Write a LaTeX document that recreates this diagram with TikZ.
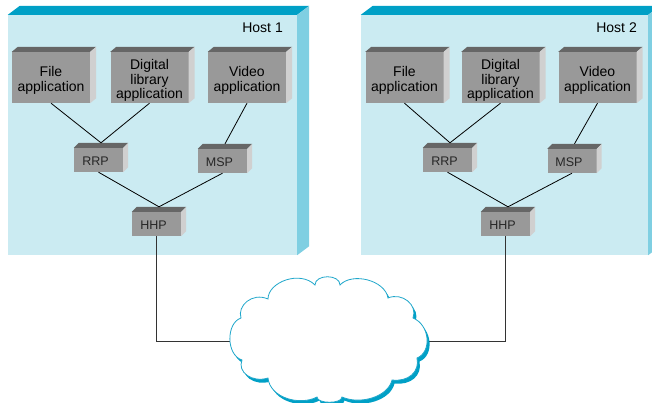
\documentclass[tikz,border=0pt]{standalone}
\usepackage{fontspec}
\setmainfont{Liberation Sans}
\usetikzlibrary{calc}
\definecolor{hostfront}{HTML}{CBEBF2}
\definecolor{hosttop}{HTML}{00A0C6}
\definecolor{hostside}{HTML}{7FCFE2}
\definecolor{boxfront}{HTML}{999999}
\definecolor{boxtop}{HTML}{666666}
\definecolor{boxside}{HTML}{D0D0D0}
\definecolor{cloudline}{HTML}{1FA7CB}
\begin{document}
\begin{tikzpicture}[x=1pt,y=-1pt,
  hostface/.style={fill=hostfront, inner sep=0, minimum height=240},
  hostlabel/.style={anchor=base east, inner sep=0, font=\fontsize{14}{14}\selectfont},
  appbox/.style={fill=boxfront, inner sep=0, minimum width=78, minimum height=51},
  smallbox/.style={fill=boxfront, inner sep=0, minimum width=49, minimum height=24},
  apptext/.style={align=center, inner sep=0, font=\fontsize{14}{14.5}\selectfont},
  smalltext/.style={inner sep=0, text=black!85, font=\fontsize{12.5}{12.5}\selectfont},
  link/.style={draw=black, line width=0.8pt},
  wire/.style={draw=black!80, line width=1pt}]
\useasboundingbox (0,0) rectangle (652,403);
\clip (0,0) rectangle (652,403);
% hosts
\node[hostface, minimum width=289] (host1) at (152.5,135) {};
\node[hostface, minimum width=287] (host2) at (504.5,135) {};
\foreach \n in {host1,host2}{
  \fill[hosttop] (\n.north west) -- ++(12,-9) -- ($(\n.north east)+(12,-9)$) -- (\n.north east) -- cycle;
  \fill[hostside] (\n.north east) -- ++(12,-9) -- ($(\n.south east)+(12,-9)$) -- (\n.south east) -- cycle;
}
\node[hostlabel] (host1l) at (283,33) {Host 1};
\node[hostlabel] (host2l) at (637,33) {Host 2};
% application boxes
\node[appbox] (f1) at (51,77.5) {};
\node[appbox] (d1) at (149.5,77.5) {};
\node[appbox] (v1) at (247,77.5) {};
\node[appbox] (f2) at (404.5,77.5) {};
\node[appbox] (d2) at (500.5,77.5) {};
\node[appbox] (v2) at (597.5,77.5) {};
% protocol boxes
\node[smallbox] (r1) at (98.5,160) {};
\node[smallbox] (m1) at (222.5,161) {};
\node[smallbox] (h1) at (156.5,224) {};
\node[smallbox] (r2) at (447.5,160) {};
\node[smallbox] (m2) at (572,161) {};
\node[smallbox] (h2) at (505.5,224) {};
\foreach \n/\dx/\dy in {f1/6/5,d1/6/5,v1/6/5,f2/6/5,d2/6/5,v2/6/5,r1/5/5,m1/5/5,h1/5/5,r2/5/5,m2/5/5,h2/5/5}{
  \fill[boxtop] (\n.north west) -- ++(\dx,-\dy) -- ($(\n.north east)+(\dx,-\dy)$) -- (\n.north east) -- cycle;
  \fill[boxside] (\n.north east) -- ++(\dx,-\dy) -- ($(\n.south east)+(\dx,-\dy)$) -- (\n.south east) -- cycle;
  \coordinate (\n top) at ($(\n.north)+(2.5,-\dy)$);
}
% labels
\node[apptext] (f1l) at ($(f1)+(0,3)$) {File\\application};
\node[apptext] (d1l) at ($(d1)+(0,3)$) {Digital\\library\\application};
\node[apptext] (v1l) at ($(v1)+(0,3)$) {Video\\application};
\node[apptext] (f2l) at ($(f2)+(0,3)$) {File\\application};
\node[apptext] (d2l) at ($(d2)+(0,3)$) {Digital\\library\\application};
\node[apptext] (v2l) at ($(v2)+(0,3)$) {Video\\application};
\node[smalltext] (r1l) at ($(r1)+(-3,1.5)$) {RRP};
\node[smalltext] (m1l) at ($(m1)+(-3,1.5)$) {MSP};
\node[smalltext] (h1l) at ($(h1)+(-3,1.5)$) {HHP};
\node[smalltext] (r2l) at ($(r2)+(-3,1.5)$) {RRP};
\node[smalltext] (m2l) at ($(m2)+(-3,1.5)$) {MSP};
\node[smalltext] (h2l) at ($(h2)+(-3,1.5)$) {HHP};
% links inside hosts
\draw[link] (f1.south) -- (r1top);
\draw[link] (d1.south) -- (r1top);
\draw[link] (v1.south) -- (m1top);
\draw[link] (r1.south) -- (h1top);
\draw[link] (m1.south) -- (h1top);
\draw[link] (f2.south) -- (r2top);
\draw[link] (d2.south) -- (r2top);
\draw[link] (v2.south) -- (m2top);
\draw[link] (r2.south) -- (h2top);
\draw[link] (m2.south) -- (h2top);
% network cloud
\node[inner sep=0, minimum width=198, minimum height=126] (net) at (329,341) {};
\draw[wire] (h1.south) -- (h1.south |- net.west) -- (net.west);
\draw[wire] (h2.south) -- (h2.south |- net.east) -- (net.east);
\def\cloudpath{(241,318) .. controls (237,306) and (252,292) .. (268,299)
  .. controls (268,282) and (300,270) .. (315,285)
  .. controls (315,274) and (340,274) .. (340,285)
  .. controls (352,272) and (385,280) .. (388,298)
  .. controls (402,292) and (418,305) .. (413,318)
  .. controls (430,325) and (432,352) .. (417,358)
  .. controls (420,372) and (408,382) .. (392,380)
  .. controls (388,397) and (360,405) .. (342,397)
  .. controls (342,404) and (317,404) .. (317,397)
  .. controls (300,406) and (270,398) .. (268,378)
  .. controls (252,383) and (237,372) .. (242,360)
  .. controls (226,355) and (226,323) .. (241,318) -- cycle}
\fill[hosttop, shift={(2.5,3.5)}] \cloudpath;
\filldraw[fill=white, draw=cloudline, line width=0.8pt] \cloudpath;
\end{tikzpicture}
\end{document}
